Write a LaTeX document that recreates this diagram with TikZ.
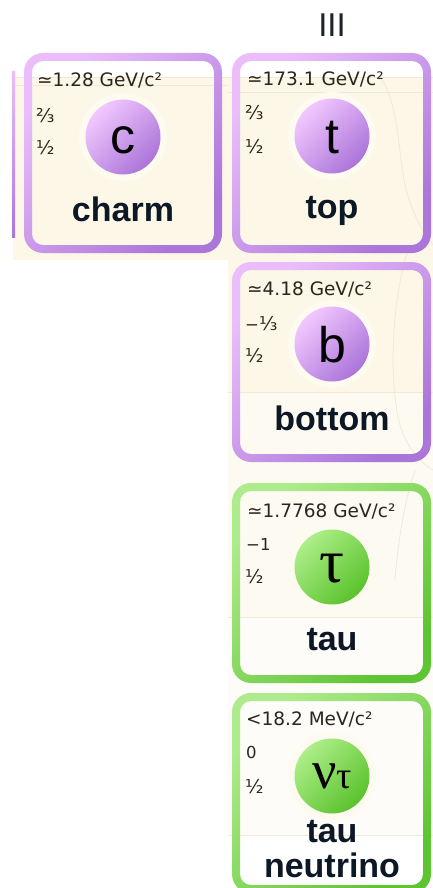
\documentclass[tikz,border=0pt]{standalone}
\usepackage{fontspec}
\setmainfont{DejaVu Sans}
\newfontfamily\namefont{Liberation Sans}
\newfontfamily\greekfont{Liberation Serif}
\definecolor{cream}{HTML}{FCF7E6}
\definecolor{ivory}{HTML}{FCFAF1}
\definecolor{pale}{HTML}{FDFCF8}
\definecolor{halo}{HTML}{FDFAF0}
\definecolor{faint}{HTML}{F0E9DA}
\definecolor{plight}{HTML}{EBBEFB}
\definecolor{pdark}{HTML}{AA76DA}
\definecolor{clight}{HTML}{F2C8FF}
\definecolor{cdark}{HTML}{AB74D9}
\definecolor{glight}{HTML}{AEEB8C}
\definecolor{gdark}{HTML}{5EC532}
\definecolor{gclight}{HTML}{ADEE88}
\definecolor{gcdark}{HTML}{5AC22C}
\definecolor{masscol}{HTML}{2A251E}
\definecolor{namecol}{HTML}{0D1826}
\definecolor{numcol}{HTML}{1F242B}
\newcommand\pbox[6]{%
  \shade[even odd rule, top color=#5, bottom color=#6, shading angle=45]
    [rounded corners=19] (#1,#2) rectangle (#3,#4)
    [rounded corners=11] (#1+8,#2+8) rectangle (#3-8,#4-8);}
\newcommand\frc[1]{{\fontsize{19}{20}\selectfont #1}}
\begin{document}
\begin{tikzpicture}[x=1pt,y=-1pt,
  mass/.style={font=\fontsize{18.5}{20}\selectfont, text=masscol, inner sep=0, anchor=base west},
  qn/.style={font=\fontsize{16.5}{18}\selectfont, text=masscol, inner sep=0, anchor=base west},
  pname/.style={font=\namefont\bfseries\fontsize{34}{36}\selectfont, text=namecol, inner sep=0, anchor=base},
  sym/.style={font=\namefont\fontsize{50}{50}\selectfont, text=black, inner sep=0, anchor=base},
  gsym/.style={font=\greekfont, text=black, inner sep=0, anchor=center},
  faintline/.style={draw=faint, line width=0.8pt}]
\useasboundingbox (0,0) rectangle (433,888);
\fill[white] (0,0) rectangle (433,888);
% background regions
\fill[cream] (13,77) rectangle (228,260);
\fill[cream] (228,77) rectangle (433,392);
\fill[ivory] (228,392) rectangle (433,617);
\fill[pale] (228,617) rectangle (433,835);
\draw[faintline] (13,77) -- (433,77);
\draw[faintline] (13,85) -- (228,85);
\draw[faintline] (228,92) -- (433,92);
\draw[faintline] (228,392) -- (433,392);
\draw[faintline] (228,617) -- (433,617);
\draw[faintline] (228,835) -- (433,835);
\draw[faintline] (380,77) .. controls (398,100) and (398,150) .. (405,185) .. controls (412,215) and (425,235) .. (433,245);
\draw[faintline] (408,250) .. controls (392,300) and (388,380) .. (400,425) .. controls (408,450) and (420,462) .. (433,470);
\draw[faintline] (415,470) .. controls (405,500) and (398,540) .. (395,580);
% left neighbour sliver
\shade[top color=plight, bottom color=pdark] (12,72) rectangle (15,237);
% halos
\foreach \cx/\cy in {123/137, 332/136, 332/344, 332/567, 332/776}
  \fill[halo] (\cx,\cy) circle[radius=44];
% generation label
\node[font=\namefont\fontsize{33}{36}\selectfont, text=numcol, inner sep=0, anchor=base] (gen) at (332,37) {III};
% boxes
\pbox{24}{53}{222}{253}{plight}{pdark}
\pbox{232}{53}{431}{253}{plight}{pdark}
\pbox{232}{262}{431}{462}{plight}{pdark}
\pbox{232}{483}{431}{683}{glight}{gdark}
\pbox{232}{693}{431}{893}{glight}{gdark}
% circles
\foreach \cx/\cy in {123/137, 332/136, 332/344}
  \shade[top color=clight, bottom color=cdark, shading angle=45] (\cx,\cy) circle[radius=37.5];
\foreach \cx/\cy in {332/567, 332/776}
  \shade[top color=gclight, bottom color=gcdark, shading angle=45] (\cx,\cy) circle[radius=37.5];
% charm
\node[mass] (cm) at (37,87) {≃1.28 GeV/c²};
\node[qn] (cq) at (36,122) {\frc{⅔}};
\node[qn] (cs) at (36,154) {\frc{½}};
\node[sym] (csym) at (123,153) {c};
\node[pname] (cn) at (123,221) {charm};
% top
\node[mass] (tm) at (247,86) {≃173.1 GeV/c²};
\node[qn] (tq) at (245,120) {\frc{⅔}};
\node[qn] (ts) at (245,153) {\frc{½}};
\node[sym] (tsym) at (332,153) {t};
\node[pname] (tn) at (332,218) {top};
% bottom
\node[mass] (bm) at (247,295) {≃4.18 GeV/c²};
\node[qn] (bq) at (245,330) {−\frc{⅓}};
\node[qn] (bs) at (245,362) {\frc{½}};
\node[sym] (bsym) at (332,362) {b};
\node[pname] (bn) at (332,430) {bottom};
% tau
\node[mass] (taum) at (247,517) {≃1.7768 GeV/c²};
\node[qn] (tauq) at (246,550) {−1};
\node[qn] (taus) at (245,583) {\frc{½}};
\node[gsym, font=\greekfont\fontsize{62}{62}\selectfont] (tausym) at (332,569) {τ};
\node[pname] (taun) at (332,650) {tau};
% tau neutrino
\node[mass] (nm) at (246,725) {<18.2 MeV/c²};
\node[qn] (nq) at (246,758) {0};
\node[qn] (ns) at (245,793) {\frc{½}};
\node[gsym] (nsym) at (332,776) {{\fontsize{54}{54}\selectfont ν}{\fontsize{38}{38}\selectfont τ}};
\node[pname] (nn1) at (332,842) {tau};
\node[pname] (nn2) at (332,877) {neutrino};
\end{tikzpicture}
\end{document}
